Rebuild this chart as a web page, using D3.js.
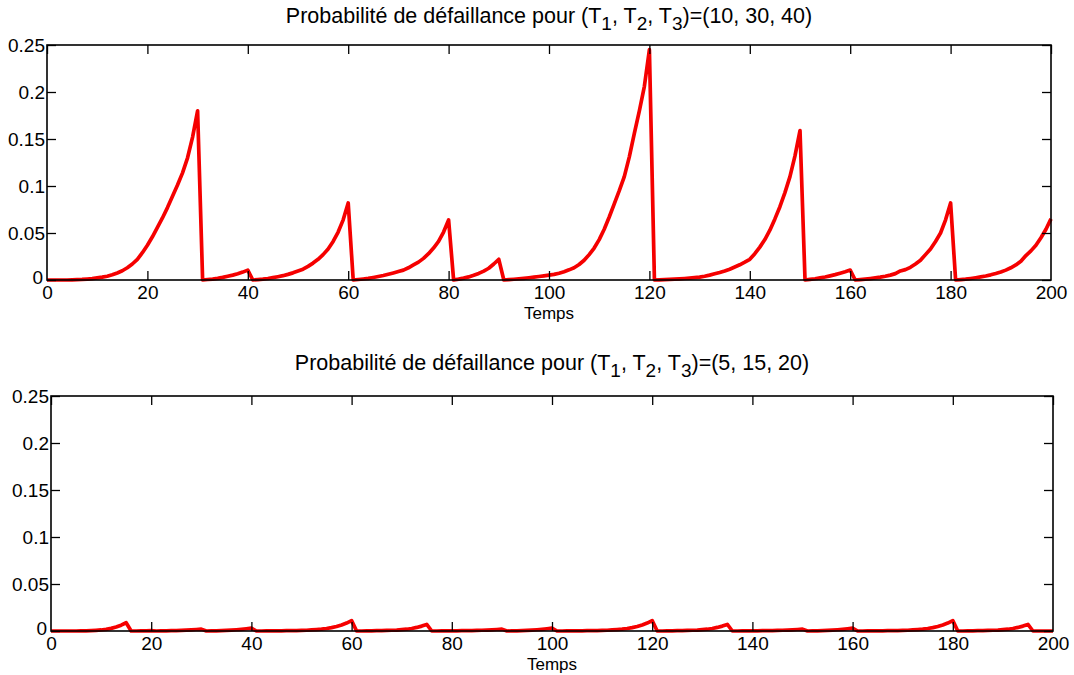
<!DOCTYPE html>
<html>
<head>
<meta charset="utf-8">
<script src="https://cdn.jsdelivr.net/npm/d3@7"></script>
<style>
html,body{margin:0;padding:0;background:#fff;}
svg{display:block;font-family:"Liberation Sans",Arial,sans-serif;}
</style>
</head>
<body>
<svg id="chart" width="1074" height="675"></svg>
<script>
// ---- data ----
const time = d3.range(0, 201); // Temps 0..200
const xTickValues = [0,20,40,60,80,100,120,140,160,180,200];
const yTickValues = [0,0.05,0.1,0.15,0.2,0.25];
const yTickLabels = ["0","0.05","0.1","0.15","0.2","0.25"];
const titleA = ["(10, 30, 40)"];
const titleB = ["(5, 15, 20)"];

// (T1,T2,T3) = (10,30,40)
const probA = [
 0,0,0,0,0,0.0002,0.0004,0.0006,0.001,0.0015,0.0022,
 0.003,0.004,0.0055,0.0075,0.0098,0.013,0.017,0.022,0.029,0.037,
 0.046,0.056,0.066,0.077,0.089,0.101,0.114,0.13,0.152,0.18,
 0,0.0005,0.001,0.0018,0.0028,0.004,0.0052,0.0066,0.0084,0.0105,
 0,0.0004,0.0009,0.0016,0.0025,0.0035,0.0046,0.006,0.0076,0.0095,
 0.0115,0.0145,0.018,0.022,0.027,0.033,0.041,0.051,0.064,0.082,
 0,0.0005,0.0011,0.0018,0.0027,0.0037,0.0048,0.0061,0.0075,0.009,
 0.0105,0.013,0.016,0.019,0.023,0.028,0.034,0.041,0.051,0.064,
 0,0.0009,0.002,0.0033,0.005,0.007,0.0095,0.0125,0.017,0.022,
 0,0.0004,0.0008,0.0013,0.0018,0.0024,0.003,0.0037,0.0044,0.0052,
 0.006,0.0072,0.0088,0.0108,0.013,0.0165,0.021,0.027,0.034,0.043,
 0.054,0.067,0.081,0.095,0.11,0.131,0.156,0.18,0.206,0.245,
 0,0.0002,0.0004,0.0006,0.0009,0.0012,0.0016,0.002,0.0025,0.003,
 0.004,0.0052,0.0066,0.008,0.0096,0.0115,0.0138,0.0162,0.019,0.022,
 0.028,0.035,0.043,0.053,0.065,0.078,0.093,0.11,0.132,0.159,
 0,0.0006,0.0013,0.0022,0.0032,0.0044,0.0057,0.0072,0.0088,0.0106,
 0,0.0004,0.0009,0.0015,0.0022,0.003,0.004,0.0052,0.0068,0.0096,
 0.011,0.0135,0.017,0.021,0.027,0.033,0.041,0.05,0.064,0.082,
 0,0.0004,0.0009,0.0016,0.0024,0.0033,0.0043,0.0055,0.0069,0.0085,
 0.0105,0.013,0.016,0.02,0.026,0.031,0.037,0.045,0.054,0.065
];

// (T1,T2,T3) = (5,15,20)
const probB = [
 0,0,0,0,0,0,0.0001,0.0002,0.0004,0.0007,0.0011,
 0.0018,0.0028,0.0042,0.0062,0.0088,0,0,0.0001,0.0002,0.0004,
 0,0.0001,0.0002,0.0003,0.0005,0.0007,0.001,0.0013,0.0016,0.002,
 0,0.0001,0.0002,0.0004,0.0006,0.0009,0.0013,0.0018,0.0024,0.003,
 0,0,0.0001,0.0001,0.0002,0.0002,0.0003,0.0004,0.0005,0.0006,
 0.0008,0.0011,0.0015,0.002,0.0027,0.0036,0.0048,0.0064,0.0084,0.011,
 0,0,0.0001,0.0002,0.0003,0.0004,0.0006,0.0008,0.001,0.0014,
 0.0019,0.0027,0.0038,0.0052,0.007,0,0,0.0001,0.0001,0.0002,
 0.0002,0.0003,0.0004,0.0005,0.0006,0.0008,0.001,0.0013,0.0016,0.002,
 0,0.0001,0.0002,0.0004,0.0006,0.0009,0.0013,0.0018,0.0024,0.003,
 0,0,0.0001,0.0001,0.0002,0.0002,0.0003,0.0004,0.0005,0.0006,
 0.0008,0.0011,0.0015,0.002,0.0027,0.0036,0.0048,0.0064,0.0084,0.011,
 0,0,0.0001,0.0002,0.0003,0.0004,0.0006,0.0008,0.001,0.0014,
 0.0019,0.0027,0.0038,0.0052,0.007,0,0,0.0001,0.0001,0.0002,
 0.0002,0.0003,0.0004,0.0005,0.0006,0.0008,0.001,0.0013,0.0016,0.002,
 0,0.0001,0.0002,0.0004,0.0006,0.0009,0.0013,0.0018,0.0024,0.003,
 0,0,0.0001,0.0001,0.0002,0.0002,0.0003,0.0004,0.0005,0.0006,
 0.0008,0.0011,0.0015,0.002,0.0027,0.0036,0.0048,0.0064,0.0084,0.011,
 0,0,0.0001,0.0002,0.0003,0.0004,0.0006,0.0008,0.001,0.0014,
 0.0019,0.0027,0.0038,0.0052,0.007,0,0,0,0,0
];

// ---- drawing ----
const svg = d3.select("#chart");
const FONT = '"Liberation Sans", Arial, sans-serif';

function panel(cfg, values, suffix) {
  const x = d3.scaleLinear().domain([0, 200]).range([cfg.left, cfg.right]);
  const y = d3.scaleLinear().domain([0, 0.25]).range([cfg.bottom, cfg.top]);
  const g = svg.append("g");
  const tl = 9;

  // data line
  const line = d3.line().x((d, i) => x(time[i])).y(d => y(d));
  g.append("path").datum(values)
    .attr("fill", "none").attr("stroke", "#f50000")
    .attr("stroke-width", 3.7).attr("stroke-linejoin", "round")
    .attr("d", line);

  const fmt = v => yTickLabels[yTickValues.indexOf(v)];
  const axB = d3.axisBottom(x).tickValues(xTickValues).tickSizeInner(-tl).tickSizeOuter(0).tickPadding(3);
  const axT = d3.axisTop(x).tickValues(xTickValues).tickSizeInner(-tl).tickSizeOuter(0).tickFormat("");
  const axL = d3.axisLeft(y).tickValues(yTickValues).tickSizeInner(-tl).tickSizeOuter(0).tickPadding(2).tickFormat(fmt);
  const axR = d3.axisRight(y).tickValues(yTickValues).tickSizeInner(-tl).tickSizeOuter(0).tickFormat("");

  const style = s => {
    s.select(".domain").remove();
    s.selectAll(".tick line").attr("stroke", "#000").attr("stroke-width", 1.3);
    s.selectAll(".tick text").attr("fill", "#000").style("font-size", "19px")
      .style("font-family", FONT);
  };
  const gB = g.append("g").attr("transform", `translate(0,${cfg.bottom})`).call(axB).call(style);
  gB.selectAll(".tick text").attr("dy", "0.86em");
  g.append("g").attr("transform", `translate(0,${cfg.top})`).call(axT).call(style);
  const gL = g.append("g").attr("transform", `translate(${cfg.left},0)`).call(axL).call(style);
  gL.selectAll(".tick text").filter(d => d === 0).attr("dy", "0.2em").attr("x", -4);
  g.append("g").attr("transform", `translate(${cfg.right},0)`).call(axR).call(style);

  gB.selectAll(".tick line").filter(d => d === 0 || d === 200).remove();

  // box
  g.append("rect").attr("x", cfg.left).attr("y", cfg.top)
    .attr("width", cfg.right - cfg.left).attr("height", cfg.bottom - cfg.top)
    .attr("fill", "none").attr("stroke", "#000").attr("stroke-width", 1.6);

  // x label
  g.append("text").attr("x", (cfg.left + cfg.right) / 2).attr("y", cfg.bottom + 39)
    .attr("text-anchor", "middle").style("font-size", "17px").style("font-family", FONT)
    .attr("fill", "#000").text("Temps");

  // title with subscripts
  const t = g.append("text").attr("x", (cfg.left + cfg.right) / 2).attr("y", cfg.top - cfg.titleGap)
    .attr("text-anchor", "middle").style("font-size", "21.5px").style("font-family", FONT).attr("fill", "#000");
  t.append("tspan").text("Probabilité de défaillance pour (T");
  t.append("tspan").attr("dy", 7).style("font-size", "19px").text("1");
  t.append("tspan").attr("dy", -7).text(", T");
  t.append("tspan").attr("dy", 7).style("font-size", "19px").text("2");
  t.append("tspan").attr("dy", -7).text(", T");
  t.append("tspan").attr("dy", 7).style("font-size", "19px").text("3");
  t.append("tspan").attr("dy", -7).text(")=" + suffix);
}

panel({left: 47, right: 1051, top: 45, bottom: 280, titleGap: 22}, probA, titleA[0]);
panel({left: 51, right: 1053, top: 396, bottom: 631, titleGap: 26}, probB, titleB[0]);
</script>
</body>
</html>
